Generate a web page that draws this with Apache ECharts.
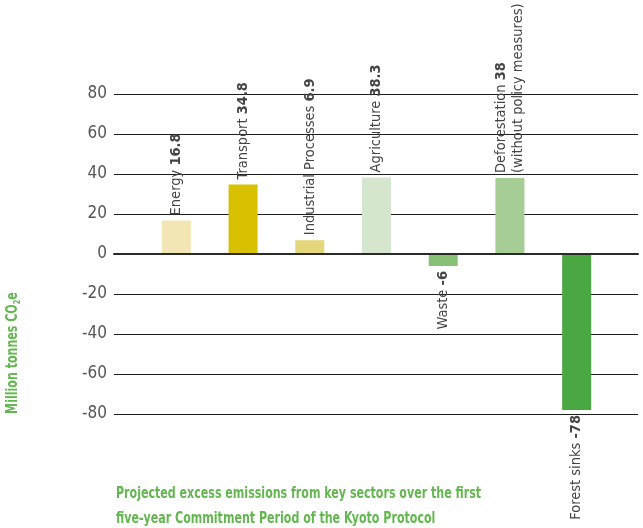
<!DOCTYPE html>
<html>
<head>
<meta charset="utf-8">
<script src="https://cdn.jsdelivr.net/npm/echarts@6/dist/echarts.min.js"></script>
<style>
  html, body { margin: 0; padding: 0; background: #fff; }
  #chart { width: 643px; height: 528px; }
</style>
</head>
<body>
<div id="chart"></div>
<script>
// Sectors, their projected excess emissions (Mt CO2e) and bar colours
const categories = ['Energy', 'Transport', 'Industrial Processes', 'Agriculture', 'Waste', 'Deforestation', 'Forest sinks'];
const values = [16.8, 34.8, 6.9, 38.3, -6, 38, -78];
const notes = ['', '', '', '', '', '(without policy measures)', ''];
const barColors = ['#f2e7b4', '#d7c100', '#e4d67a', '#d5e6cf', '#88c175', '#a5cd95', '#4aa843'];
const yMin = -80, yMax = 80, yStep = 20;

const FONT = '"DejaVu Sans Condensed", "DejaVu Sans", sans-serif';
const GREEN = '#64b650';
const LABEL_SIZE = 14.5;

const chart = echarts.init(document.getElementById('chart'));

const data = values.map((v, i) => ({
  value: v,
  itemStyle: { color: barColors[i] },
  label: v >= 0
    ? { position: 'top', align: 'left' }
    : { position: 'bottom', align: 'right' }
}));

chart.setOption({
  animation: false,
  grid: [
    // grid for the value scale and horizontal rules
    { left: 114, right: 5, top: 94, bottom: 114 },
    // grid that holds the bars
    { left: 143, right: 33, top: 94, bottom: 114 }
  ],
  xAxis: [
    {
      // zero baseline drawn across the full width, above the bars
      gridIndex: 0, type: 'category', data: [''], z: 5,
      axisLine: { onZero: true, lineStyle: { color: '#2a2a2a', width: 2 } },
      axisTick: { show: false }, axisLabel: { show: false }
    },
    { gridIndex: 1, type: 'category', data: categories, show: false }
  ],
  yAxis: [
    {
      gridIndex: 0, type: 'value', min: yMin, max: yMax, interval: yStep,
      axisLine: { show: false }, axisTick: { show: false },
      axisLabel: { margin: 7, fontFamily: FONT, fontSize: 17, color: '#555' },
      splitLine: { lineStyle: { color: '#1e1e1e', width: 1 } }
    },
    {
      gridIndex: 1, type: 'value', min: yMin, max: yMax, interval: yStep,
      show: false, splitLine: { show: false }
    }
  ],
  series: [{
    type: 'bar',
    xAxisIndex: 1,
    yAxisIndex: 1,
    barWidth: 29,
    data: data,
    label: {
      show: true,
      rotate: 90,
      distance: 5,
      verticalAlign: 'middle',
      fontFamily: FONT,
      fontSize: LABEL_SIZE,
      color: '#444',
      lineHeight: 17,
      formatter: p => {
        const i = p.dataIndex;
        let s = '{n|' + categories[i] + ' }{v|' + values[i] + '}';
        if (notes[i]) s += '\n{n|' + notes[i] + '}';
        return s;
      },
      rich: {
        n: { fontFamily: FONT, fontSize: LABEL_SIZE, color: '#444', lineHeight: 17 },
        v: { fontFamily: FONT, fontSize: LABEL_SIZE, fontWeight: 'bold', color: '#444', lineHeight: 17 }
      }
    }
  }],
  graphic: [
    {
      type: 'text',
      x: 13, y: 353,
      rotation: Math.PI / 2,
      scaleX: 0.82,
      style: {
        text: '{m|Million tonnes CO}{s|2}{m|e}',
        x: 0, y: 0,
        align: 'center',
        verticalAlign: 'middle',
        rich: {
          m: { fontFamily: FONT, fontSize: 15, fontWeight: 'bold', fill: GREEN, lineHeight: 18 },
          s: { fontFamily: FONT, fontSize: 9, fontWeight: 'bold', fill: GREEN, lineHeight: 18, verticalAlign: 'bottom', padding: [6, 0, 0, 0] }
        }
      }
    },
    {
      type: 'text',
      x: 116, y: 482,
      scaleX: 0.82,
      style: {
        text: 'Projected excess emissions from key sectors over the first\nfive-year Commitment Period of the Kyoto Protocol',
        x: 0, y: 0,
        align: 'left',
        verticalAlign: 'top',
        font: 'bold 15px ' + FONT,
        fill: GREEN,
        lineHeight: 25
      }
    }
  ]
});
</script>
</body>
</html>
